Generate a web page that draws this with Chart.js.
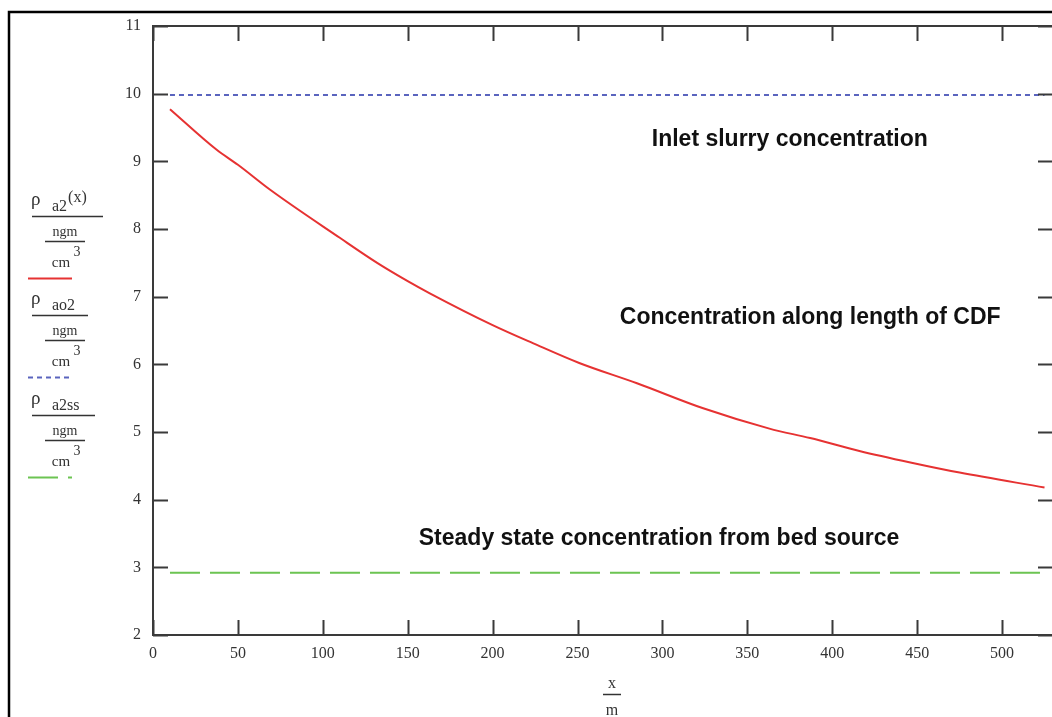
<!DOCTYPE html>
<html lang="en">
  <head>
    <meta charset="UTF-8" />
    <script src="https://cdn.jsdelivr.net/npm/chart.js@4.4.1/dist/chart.umd.min.js"></script>
    <style>
      html, body { margin: 0; padding: 0; background: #fff; overflow: hidden; }
      #wrap { position: relative; width: 1056px; height: 717px; }
    </style>
  </head>
  <body>
    <div id="wrap">
      <canvas id="myChart"></canvas>
    </div>

    <script>
      // values
      const xPos = [10, 37.5, 50, 69, 110, 132, 150, 163, 200, 224, 251, 285, 324, 363, 387, 416, 446, 475, 525];
      const rhoA2 = [9.77, 9.17, 8.95, 8.58, 7.87, 7.5, 7.23, 7.05, 6.58, 6.31, 6.02, 5.72, 5.35, 5.05, 4.91, 4.72, 4.55, 4.4, 4.18];
      const inletX = [10, 525];
      const inletY = [9.98, 9.98];
      const steadyX = [10, 525];
      const steadyY = [2.92, 2.92];
      const xTicks = [0, 50, 100, 150, 200, 250, 300, 350, 400, 450, 500];
      const yTicks = [2, 3, 4, 5, 6, 7, 8, 9, 10, 11];

      const toPoints = (xs, ys) => xs.map((x, i) => ({ x: x, y: ys[i] }));

      const AXIS = "#3a3a3a";
      const SERIF = "'Liberation Serif', 'DejaVu Serif', serif";
      const SANS = "'Liberation Sans', Arial, sans-serif";

      // frame, inward ticks, notes and the left-hand legend
      const decor = {
        id: "decor",
        beforeDraw(chart) {
          const c = chart.ctx;
          c.save();
          c.fillStyle = "#fff";
          c.fillRect(0, 0, chart.width, chart.height);
          c.strokeStyle = "#000";
          c.lineWidth = 2.5;
          c.beginPath();
          c.moveTo(9, 717);
          c.lineTo(9, 12);
          c.lineTo(chart.width, 12);
          c.stroke();
          c.restore();
        },
        afterDraw(chart) {
          const c = chart.ctx;
          const a = chart.chartArea;
          const xs = chart.scales.x;
          const ys = chart.scales.y;
          c.save();
          c.strokeStyle = AXIS;
          c.lineWidth = 2;
          c.strokeRect(a.left, a.top, a.right - a.left, a.bottom - a.top);
          c.beginPath();
          xTicks.forEach((v) => {
            const px = Math.round(xs.getPixelForValue(v)) + 0.5;
            c.moveTo(px, a.bottom);
            c.lineTo(px, a.bottom - 15);
            c.moveTo(px, a.top);
            c.lineTo(px, a.top + 15);
          });
          yTicks.forEach((v) => {
            const py = Math.round(ys.getPixelForValue(v)) + 0.5;
            c.moveTo(a.left, py);
            c.lineTo(a.left + 15, py);
            c.moveTo(a.right, py);
            c.lineTo(a.right - 15, py);
          });
          c.stroke();

          // notes
          c.fillStyle = "#111";
          c.font = "bold 23px " + SANS;
          c.textAlign = "center";
          c.textBaseline = "middle";
          const note = (t, x, y) => c.fillText(t, xs.getPixelForValue(x), ys.getPixelForValue(y));
          note("Inlet slurry concentration", 375, 9.32);
          note("Concentration along length of CDF", 387, 6.69);
          note("Steady state concentration from bed source", 298, 3.43);

          // x axis title  x / m
          c.fillStyle = "#333";
          c.font = "16px " + SERIF;
          c.fillText("x", 612, 684);
          c.fillText("m", 612, 711);
          c.strokeStyle = "#333";
          c.lineWidth = 1.5;
          c.beginPath();
          c.moveTo(603, 694.5);
          c.lineTo(621, 694.5);
          c.stroke();

          // legend at the left
          const block = (y0, sub, extra, barW, line) => {
            c.fillStyle = "#333";
            c.textAlign = "left";
            c.textBaseline = "alphabetic";
            c.font = "19px " + SERIF;
            c.fillText("\u03c1", 31, y0);
            c.font = "16px " + SERIF;
            c.fillText(sub, 52, y0 + 6);
            if (extra) {
              const w = c.measureText(sub).width;
              c.fillText(extra, 52 + w + 1, y0 - 3);
            }
            c.strokeStyle = "#333";
            c.lineWidth = 1.5;
            c.beginPath();
            c.moveTo(32, y0 + 11.5);
            c.lineTo(32 + barW, y0 + 11.5);
            c.stroke();
            c.font = "14px " + SERIF;
            c.textAlign = "center";
            c.fillText("ngm", 65, y0 + 31);
            c.beginPath();
            c.moveTo(45, y0 + 36.5);
            c.lineTo(85, y0 + 36.5);
            c.stroke();
            c.font = "15px " + SERIF;
            c.fillText("cm", 61, y0 + 62);
            c.font = "14px " + SERIF;
            c.fillText("3", 77, y0 + 51);
            c.strokeStyle = line.color;
            c.lineWidth = 2;
            c.setLineDash(line.dash);
            c.beginPath();
            c.moveTo(28, y0 + 73.5);
            c.lineTo(line.end, y0 + 73.5);
            c.stroke();
            c.setLineDash([]);
          };
          block(205, "a2", "(x)", 71, { color: "#e63232", dash: [], end: 72 });
          block(304, "ao2", null, 56, { color: "#5a64be", dash: [5, 4], end: 72 });
          block(404, "a2ss", null, 63, { color: "#6cc452", dash: [30, 10], end: 72 });
          c.restore();
        },
      };

      const ctx = document.getElementById("myChart").getContext("2d");
      const myChart = new Chart(ctx, {
        type: "line",
        data: {
          datasets: [
            {
              label: "rho a2(x)",
              data: toPoints(xPos, rhoA2),
              borderColor: "#e63232",
              borderWidth: 2,
              pointRadius: 0,
              cubicInterpolationMode: "monotone",
            },
            {
              label: "rho ao2",
              data: toPoints(inletX, inletY),
              borderColor: "#5a64be",
              borderWidth: 2,
              borderDash: [5, 4],
              pointRadius: 0,
            },
            {
              label: "rho a2ss",
              data: toPoints(steadyX, steadyY),
              borderColor: "#6cc452",
              borderWidth: 2,
              borderDash: [30, 10],
              pointRadius: 0,
            },
          ],
        },
        options: {
          responsive: true,
          maintainAspectRatio: false,
          animation: false,
          layout: { padding: { top: 26, right: 3, left: 0, bottom: 0 } },
          plugins: {
            legend: { display: false },
            tooltip: { enabled: false },
          },
          scales: {
            x: {
              type: "linear",
              min: 0,
              max: 530,
              border: { display: false },
              grid: { display: false, drawTicks: false },
              afterFit: (s) => { s.height = 82; },
              afterBuildTicks: (s) => { s.ticks = xTicks.map((v) => ({ value: v })); },
              ticks: {
                padding: 9,
                color: "#333",
                maxRotation: 0,
                font: { family: SERIF, size: 16 },
              },
            },
            y: {
              min: 2,
              max: 11,
              border: { display: false },
              grid: { display: false, drawTicks: false },
              afterFit: (s) => { s.width = 153; },
              afterBuildTicks: (s) => { s.ticks = yTicks.map((v) => ({ value: v })); },
              ticks: {
                padding: 12,
                color: "#333",
                font: { family: SERIF, size: 16 },
              },
            },
          },
        },
        plugins: [decor],
      });
    </script>
  </body>
</html>
